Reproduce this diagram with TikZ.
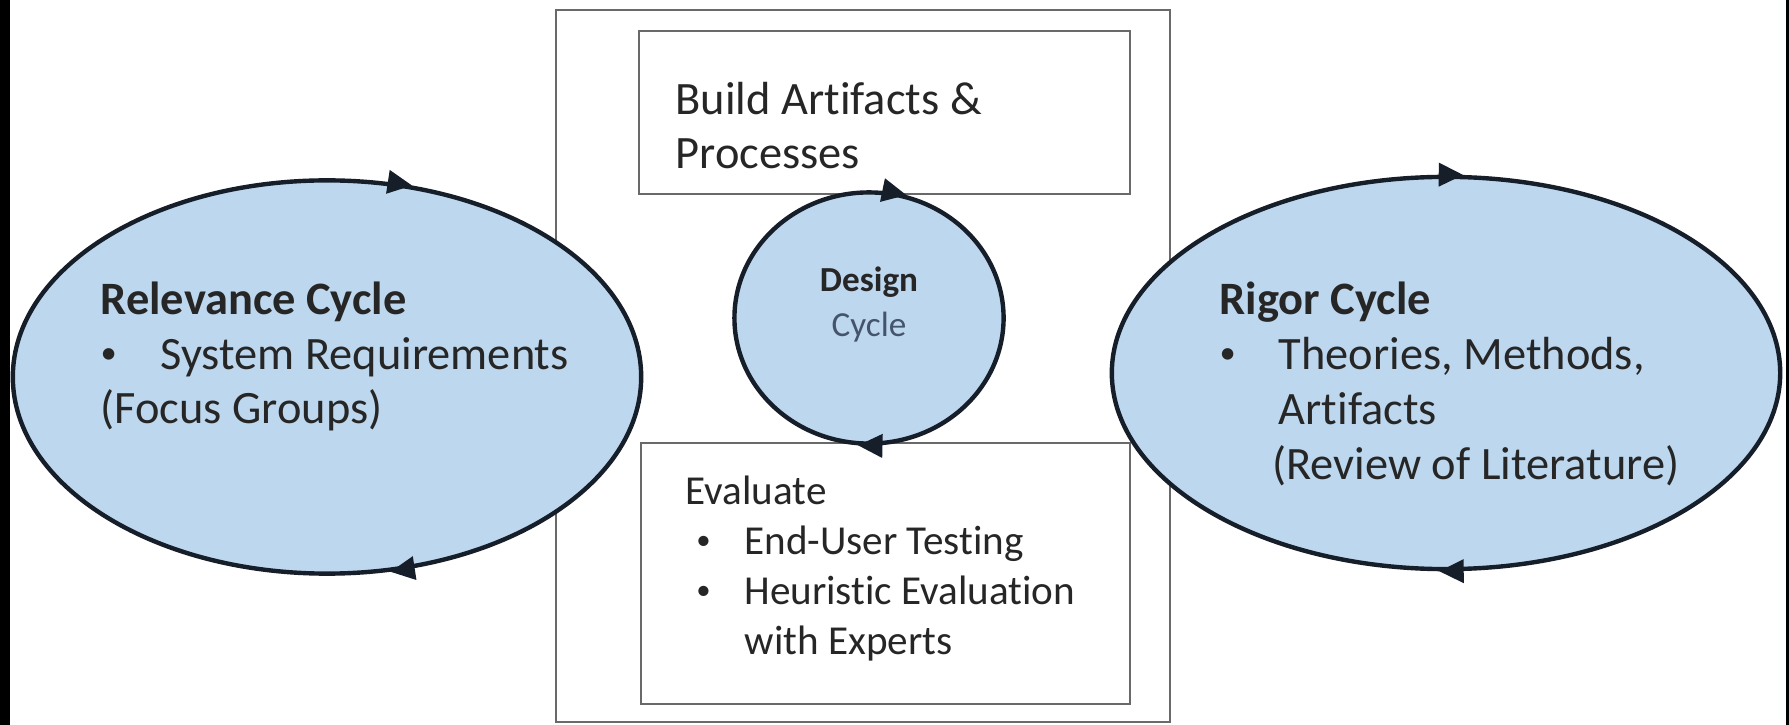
\documentclass[tikz,border=0pt]{standalone}
\usepackage{fontspec}
\setmainfont{Carlito}[Ligatures=NoCommon]
\usepackage{tikz}
\usetikzlibrary{shapes.geometric, arrows.meta}

\definecolor{cyclefill}{RGB}{189,215,238}
\definecolor{cycleline}{RGB}{22,30,42}
\definecolor{boxgray}{RGB}{105,105,105}
\definecolor{inkgray}{RGB}{38,38,38}
\definecolor{slateblue}{RGB}{68,84,106}

\newcommand{\bigtext}{\fontsize{13.2}{15.6}\selectfont}
\newcommand{\evaltext}{\fontsize{11.7}{14.2}\selectfont}
\newcommand{\designtext}{\fontsize{10}{12.8}\selectfont}
\newcommand{\bulletgap}[1]{\makebox[#1][l]{\raisebox{0.12em}{\scalebox{0.7}{\textbullet}}}}

\tikzset{
  cycleshape/.style={ellipse, draw=cycleline, line width=1.25pt, fill=cyclefill, inner sep=0pt},
  framebox/.style={draw=boxgray, line width=0.7pt, fill=white},
  cyctip/.style={-{Triangle[length=7pt,width=6.5pt]}, draw=cycleline, line width=1.25pt},
  txt/.style={inner sep=0pt, align=left, text=inkgray, anchor=base west},
}

\begin{document}
\begin{tikzpicture}[x=0.01cm, y=-0.01cm]
  \useasboundingbox (0,0) rectangle (1789,725);
  \fill[white] (0,0) rectangle (1789,725);
  \fill[black] (0,0) rectangle (10,725);
  \fill[black] (1786,0) rectangle (1789,725);

  % Design frame
  \draw[framebox] (556,10) rectangle (1170,722);
  \draw[framebox] (639,31) rectangle (1130,194);
  \draw[framebox] (641,443) rectangle (1130,704);

  % Cycles
  \node[cycleshape, minimum width=6.28cm, minimum height=3.93cm] (relevance) at (327,377) {};
  \node[cycleshape, minimum width=6.68cm, minimum height=3.92cm] (rigor) at (1446,373) {};
  \node[cycleshape, minimum width=2.69cm, minimum height=2.51cm] (design) at (869,318) {};

  \foreach \cyc/\a/\b in {relevance/72/66, relevance/294/288, rigor/91/85,
                          rigor/274/268, design/80/73, design/272/265}{
    \draw[cyctip] (\cyc.\a) -- (\cyc.\b);
  }

  % base = last line
  \node[txt, font=\bigtext] (reltxt) at (100,424)
    {\textbf{Relevance Cycle}\\\bulletgap{17pt}System Requirements\\(Focus Groups)};
  \node[txt, font=\bigtext] (rigtxt) at (1219,479)
    {\textbf{Rigor Cycle}\\\bulletgap{16.8pt}Theories, Methods,\\\hspace*{16.8pt}Artifacts\\\hspace*{15pt}(Review of Literature)};
  \node[txt, font=\bigtext] (buildtxt) at (675,169) {Build Artifacts \&\\Processes};
  \node[txt, font=\evaltext] (evaltxt) at (685,654)
    {Evaluate\\\hspace*{3pt}\bulletgap{13.7pt}End-User Testing\\\hspace*{3pt}\bulletgap{13.7pt}Heuristic Evaluation\\\hspace*{16.8pt}with Experts};
  \node[txt, font=\designtext, align=center, anchor=base] (designtxt) at (869,337)
    {\textbf{Design}\\\textcolor{slateblue}{Cycle}};

\end{tikzpicture}
\end{document}
